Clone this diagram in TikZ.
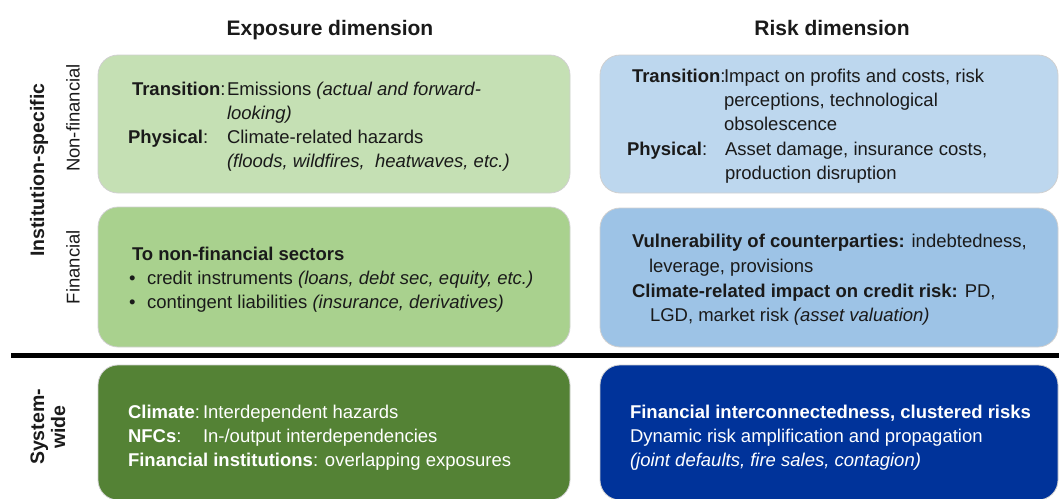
\documentclass[tikz,border=0pt]{standalone}
\usepackage{fontspec}
\setmainfont{Liberation Sans}
\definecolor{gA}{HTML}{C5E0B4}
\definecolor{gB}{HTML}{A9D18E}
\definecolor{gC}{HTML}{548235}
\definecolor{bA}{HTML}{BDD7EE}
\definecolor{bB}{HTML}{9DC3E6}
\definecolor{bC}{HTML}{00339A}
\definecolor{txc}{HTML}{1A1A1A}
\definecolor{edgec}{HTML}{D0D0D0}
\begin{document}
\begin{tikzpicture}[x=1pt,y=-1pt,
  box/.style={rectangle, rounded corners=20pt, draw=edgec, line width=0.8pt, inner sep=0pt, outer sep=0pt},
  wideL/.style={box, minimum width=472pt},
  wideR/.style={box, minimum width=458pt},
  txt/.style={anchor=base west, inner sep=0pt, outer sep=0pt, text=txc, font=\fontsize{18.5}{22}\selectfont},
  wtxt/.style={txt, text=white},
  hdr/.style={anchor=base, inner sep=0pt, text=txc, font=\fontsize{21}{25}\selectfont\bfseries},
  side/.style={rotate=90, anchor=center, inner sep=0pt, text=txc, font=\fontsize{18.5}{21}\selectfont},
  sideb/.style={side, font=\fontsize{19.5}{21}\selectfont\bfseries, align=center}
]
\useasboundingbox (0,0) rectangle (1059,498);

% headers
\node[hdr] (h1) at (330,35) {Exposure dimension};
\node[hdr] (h2) at (832,35) {Risk dimension};

% side labels
\node[sideb] (s1) at (39,170) {Institution-specific};
\node[side] (s2) at (73,118) {Non-financial};
\node[side] (s3) at (73,267) {Financial};
\node[sideb] (s4) at (48,427) {System-\\wide};

% separator
\coordinate (ls) at (11,355);
\coordinate (le) at (1059,355);
\draw[line width=5pt, black] (ls) -- (le);

% boxes
\node[wideL, fill=gA, minimum height=138pt] (tl) at (334,124) {};
\node[wideR, fill=bA, minimum height=138pt] (tr) at (829,124) {};
\node[wideL, fill=gB, minimum height=140pt] (ml) at (334,277) {};
\node[wideR, fill=bB, minimum height=139pt] (mr) at (829,277.5) {};
\node[wideL, fill=gC, minimum height=135pt] (bl) at (334,432.5) {};
\node[wideR, fill=bC, minimum height=135pt] (br) at (829,432.5) {};

% top-left
\node[txt] (tl1a) at (132,95) {\textbf{Transition}:};
\node[txt] (tl1b) at (227,95) {Emissions \textit{(actual and forward-}};
\node[txt] (tl2b) at (227,119) {\textit{looking)}};
\node[txt] (tl3a) at (128,143) {\textbf{Physical}:};
\node[txt] (tl3b) at (227,143) {Climate-related hazards};
\node[txt] (tl4b) at (227,167) {\textit{(floods, wildfires,\ \ heatwaves, etc.)}};

% top-right
\node[txt] (tr1a) at (632,82) {\textbf{Transition}:};
\node[txt] (tr1b) at (724,82) {Impact on profits and costs, risk};
\node[txt] (tr2b) at (724,106) {perceptions, technological};
\node[txt] (tr3b) at (724,130) {obsolescence};
\node[txt] (tr4a) at (627,155) {\textbf{Physical}:};
\node[txt] (tr4b) at (725,155) {Asset damage, insurance costs,};
\node[txt] (tr5b) at (725,179) {production disruption};

% middle-left
\node[txt] (ml1) at (132,260) {\textbf{To non-financial sectors}};
\node[txt] (ml2a) at (129,284) {•};
\node[txt] (ml2b) at (147,284) {credit instruments \textit{(loans, debt sec, equity, etc.)}};
\node[txt] (ml3a) at (129,308) {•};
\node[txt] (ml3b) at (147,308) {contingent liabilities \textit{(insurance, derivatives)}};

% middle-right
\node[txt] (mr1) at (632,247) {\textbf{Vulnerability of counterparties:} indebtedness,};
\node[txt] (mr2) at (649,272) {leverage, provisions};
\node[txt] (mr3) at (632,297) {\textbf{Climate-related impact on credit risk:} PD,};
\node[txt] (mr4) at (650,321) {LGD, market risk \textit{(asset valuation)}};

% bottom-left
\node[wtxt] (bl1a) at (128,418) {\textbf{Climate}:};
\node[wtxt] (bl1b) at (203,418) {Interdependent hazards};
\node[wtxt] (bl2a) at (128,442) {\textbf{NFCs}:};
\node[wtxt] (bl2b) at (203,442) {In-/output interdependencies};
\node[wtxt] (bl3) at (128,466) {\textbf{Financial institutions}: overlapping exposures};

% bottom-right
\node[wtxt] (br1) at (630,418) {\textbf{Financial interconnectedness, clustered risks}};
\node[wtxt] (br2) at (630,442) {Dynamic risk amplification and propagation};
\node[wtxt] (br3) at (630,466) {\textit{(joint defaults, fire sales, contagion)}};
\end{tikzpicture}
\end{document}
